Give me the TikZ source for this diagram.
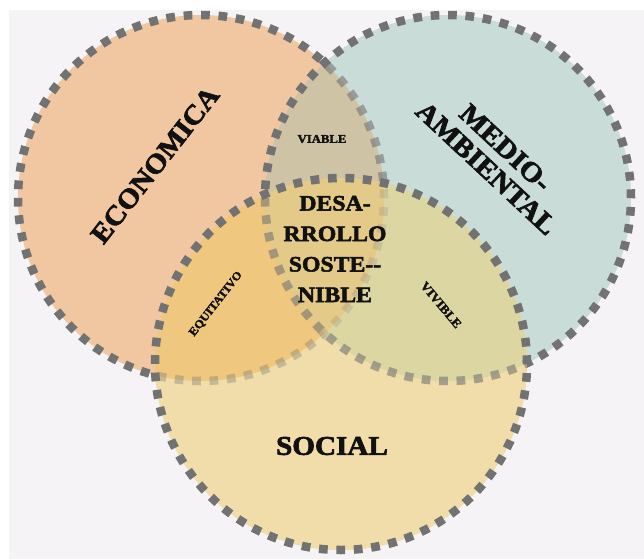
\documentclass[tikz,border=0pt]{standalone}
\usepackage{fontspec}
\setmainfont{Liberation Serif}[BoldFeatures={FakeBold=2.5,FakeStretch=1.08}]
\definecolor{bgc}{HTML}{F5F3F5}
\definecolor{ecol}{HTML}{F0C7A0}
\definecolor{mcol}{HTML}{C9DCD7}
\definecolor{scol}{HTML}{F0DDAA}
\definecolor{emcol}{HTML}{CEC3A4}
\definecolor{escol}{HTML}{EFC77E}
\definecolor{mscol}{HTML}{DCD7A2}
\definecolor{emscol}{HTML}{E3CA88}
\definecolor{dashc}{HTML}{727272}
\definecolor{txt}{HTML}{111111}
\newcommand\regionfills{%
  \fill[ecol] (E) circle[radius=183pt];
  \fill[mcol] (M) circle[radius=183pt];
  \fill[scol] (S) circle[radius=186pt];
  \begin{scope}
    \clip (M) circle[radius=183pt];
    \fill[mscol] (S) circle[radius=186pt];
  \end{scope}
  \begin{scope}
    \clip (E) circle[radius=183pt];
    \fill[emcol] (M) circle[radius=183pt];
    \fill[escol] (S) circle[radius=186pt];
    \clip (M) circle[radius=183pt];
    \fill[emscol] (S) circle[radius=186pt];
  \end{scope}}
\newcommand\fadeinside[1]{%
  \begin{scope}
    \clip #1;
    \begin{scope}[transparency group, opacity=0.42]
      \regionfills
    \end{scope}
  \end{scope}}
\begin{document}
\begin{tikzpicture}[x=1pt,y=-1pt,
  ring/.style={draw=dashc, line width=8.5pt, dash pattern=on 8.7pt off 8.72pt},
  lbl/.style={text=txt, inner sep=0pt, font=\bfseries\fontsize{#1}{#1}\selectfont},
  blk/.style 2 args={text=txt, inner sep=0pt, align=center, font=\bfseries\fontsize{#1}{#2}\selectfont}]
\useasboundingbox (0,0) rectangle (644,559);
\fill[white] (0,0) rectangle (644,559);
\fill[bgc] (9,10) rectangle (644,559);
\coordinate (E) at (201,198);
\coordinate (M) at (448,198);
\coordinate (S) at (341,364);
\regionfills
% economic ring, faded where the other two circles lie over it
\draw[ring] (E) circle[radius=183pt];
\fadeinside{(M) circle[radius=183pt]}
\fadeinside{(S) circle[radius=186pt]}
% environmental ring, faded under the social circle
\draw[ring] (M) circle[radius=183pt];
\fadeinside{(S) circle[radius=186pt]}
% social ring
\draw[ring, dash pattern=on 8.72pt off 8.72pt] (S) circle[radius=186pt];
% labels
\node[lbl=27.3, rotate=52] (eco) at (155,165) {ECONOMICA};
\node[blk={27.5}{28}, rotate=-43] (med) at (496,158) {MEDIO-\\AMBIENTAL};
\node[lbl=11.8] (via) at (322,139) {VIABLE};
\node[blk={22}{30.5}] (des) at (335,249) {DESA-\\RROLLO\\SOSTE-{}-\\NIBLE};
\node[lbl=11.5, rotate=52] (equ) at (216,304) {EQUITATIVO};
\node[lbl=12.3, rotate=-50] (viv) at (441,305) {VIVIBLE};
\node[lbl=27] (soc) at (332,446) {SOCIAL};
\end{tikzpicture}
\end{document}
